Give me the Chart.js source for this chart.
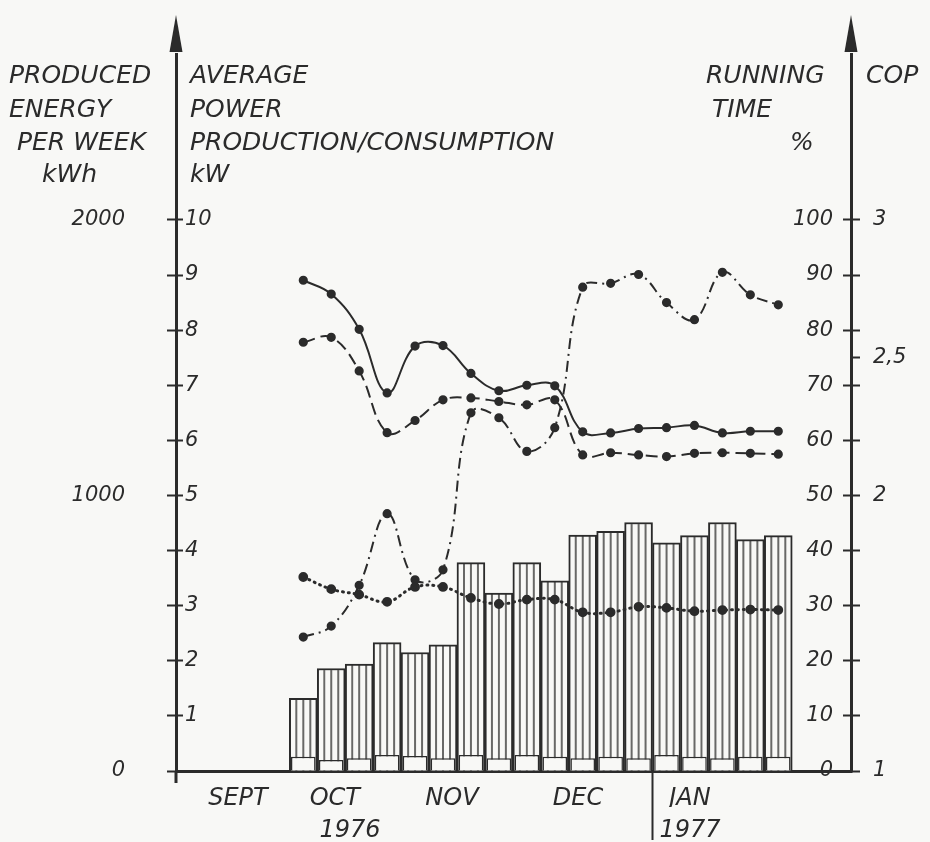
<!DOCTYPE html>
<html>
<head>
<meta charset="utf-8">
<script src="https://cdn.jsdelivr.net/npm/chart.js@4.4.1/dist/chart.umd.min.js"></script>
<style>
  html, body { margin: 0; padding: 0; background: #f8f8f6; }
  #wrap { width: 930px; height: 842px; position: relative; }
  canvas { display: block; }
</style>
</head>
<body>
<div id="wrap"><canvas id="chart" width="930" height="842"></canvas></div>
<script>
// Weekly results of the heat pump plant, Oct 1976 - Jan 1977 (one entry per week)
const weeks = ['40', '41', '42', '43', '44', '45', '46', '47', '48', '49', '50', '51', '52', '1', '2', '3', '4', '5'];

// Produced energy per week, kWh (hatched bars)
const producedKWh = [264, 372, 388, 466, 430, 458, 756, 646, 756, 690, 856, 870, 902, 828, 854, 902, 840, 854];
// Auxiliary energy per week, kWh (open blocks at the foot of the bars)
const auxiliaryKWh = [52, 40, 46, 58, 54, 46, 58, 46, 58, 52, 46, 52, 46, 58, 52, 46, 52, 52];

// COP of the heat pump (solid line)
const copHeatPump = [2.781, 2.731, 2.603, 2.372, 2.542, 2.544, 2.443, 2.380, 2.400, 2.398, 2.231, 2.227, 2.243, 2.246, 2.254, 2.227, 2.233, 2.233];
// COP of the whole system (dashed line)
const copSystem = [2.556, 2.574, 2.452, 2.228, 2.272, 2.347, 2.354, 2.341, 2.329, 2.347, 2.147, 2.155, 2.147, 2.141, 2.153, 2.155, 2.153, 2.150];
// Running time, % (dash-dot line)
const runningTimePct = [24.3, 26.3, 33.7, 46.7, 34.7, 36.5, 65.0, 64.1, 58.0, 62.3, 87.8, 88.5, 90.1, 85.0, 81.9, 90.5, 86.4, 84.6];
// Average power consumption, kW (dotted line)
const consumptionKW = [3.52, 3.30, 3.20, 3.07, 3.34, 3.34, 3.14, 3.03, 3.11, 3.11, 2.88, 2.88, 2.98, 2.96, 2.90, 2.92, 2.93, 2.92];

// Time axis labels (positions in weeks from the first plotted week)
const monthLabels = ['SEPT', 'OCT', 'NOV', 'DEC', 'JAN'];
const monthPos = [-2.34, 1.13, 5.32, 9.83, 13.84];
const yearLabels = ['1976', '1977'];
const yearPos = [1.67, 13.84];
const yearBreak = 12.5;

// Value axis ticks
const kwTicks = [0, 1, 2, 3, 4, 5, 6, 7, 8, 9, 10];
const energyTicks = [0, 200, 400, 600, 800, 1000, 1200, 1400, 1600, 1800, 2000];
const energyLabels = { 0: '0', 1000: '1000', 2000: '2000' };
const pctTicks = [0, 10, 20, 30, 40, 50, 60, 70, 80, 90, 100];
const copTicks = [1, 1.2, 1.4, 1.6, 1.8, 2, 2.2, 2.4, 2.5, 2.6, 2.8, 3];
const copLabels = { 1: '1', 2: '2', 2.5: '2,5', 3: '3' };

const INK = '#2b2b2b';
const PAPER = '#f8f8f6';
const FAMILY = '"DejaVu Sans", "Liberation Sans", sans-serif';
const numFont = { family: FAMILY, size: 21, style: 'italic' };
const wordFont = { family: FAMILY, size: 24, style: 'italic' };

// Axis range: 0..13 kW, everything else scaled to the same height
const KW_MAX = 13;
const X_MIN = -4.556, X_MAX = 19.603;

// Vertical hatching for the production bars (4 columns per bar)
const hatchCanvas = document.createElement('canvas');
hatchCanvas.width = 28; hatchCanvas.height = 4;
const hg = hatchCanvas.getContext('2d');
hg.fillStyle = PAPER; hg.fillRect(0, 0, 28, 4);
hg.fillStyle = INK;
[7, 14, 21].forEach(x => hg.fillRect(x - 0.7, 0, 1.4, 4));
const hatch = document.getElementById('chart').getContext('2d').createPattern(hatchCanvas, 'repeat');

const pts = arr => arr.map((v, i) => ({ x: i, y: v }));

const hatchAlign = {
  id: 'hatchAlign',
  beforeDatasetsDraw(chart) {
    const xs = chart.scales.x;
    const l = xs.getPixelForValue(-0.5);
    const r = xs.getPixelForValue(0.5);
    hatch.setTransform(new DOMMatrix([(r - l) / 28, 0, 0, 1, l, 0]));
  }
};

// Arrow heads on the two vertical axes and the axis headings
const decorations = {
  id: 'decorations',
  afterDraw(chart) {
    const { ctx, chartArea: a } = chart;
    ctx.save();
    ctx.fillStyle = INK;
    ctx.strokeStyle = INK;
    [a.left, a.right].forEach(x => {
      ctx.beginPath();
      ctx.moveTo(x, 15);
      ctx.lineTo(x + 6.5, 52);
      ctx.lineTo(x - 6.5, 52);
      ctx.closePath();
      ctx.fill();
    });
    ctx.lineWidth = 3;
    ctx.beginPath();
    ctx.moveTo(a.left, a.bottom);
    ctx.lineTo(a.left, a.bottom + 12);
    ctx.stroke();

    ctx.font = 'italic 25px ' + FAMILY;
    ctx.textBaseline = 'middle';
    ctx.textAlign = 'left';
    const rows = [76, 110, 143, 175];
    const heads = [
      ['PRODUCED', 9, 0], ['ENERGY', 9, 1], ['PER WEEK', 17, 2], ['kWh', 42, 3],
      ['AVERAGE', 190, 0], ['POWER', 190, 1], ['PRODUCTION/CONSUMPTION', 190, 2], ['kW', 190, 3],
      ['RUNNING', 706, 0], ['TIME', 712, 1], ['%', 790, 2],
      ['COP', 866, 0]
    ];
    heads.forEach(([t, x, r]) => ctx.fillText(t, x, rows[r]));
    ctx.restore();
  }
};

const setTicks = list => scale => { scale.ticks = list.map(v => ({ value: v })); };

new Chart(document.getElementById('chart'), {
  type: 'bar',
  data: {
    datasets: [
      {
        type: 'line', label: 'COP heat pump', yAxisID: 'cop', data: pts(copHeatPump),
        borderColor: INK, borderWidth: 2, tension: 0.4, order: 1,
        pointRadius: 3.6, pointBackgroundColor: INK, pointBorderColor: INK
      },
      {
        type: 'line', label: 'COP system', yAxisID: 'cop', data: pts(copSystem),
        borderColor: INK, borderWidth: 2, borderDash: [12, 6], tension: 0.4, order: 1,
        pointRadius: 3.6, pointBackgroundColor: INK, pointBorderColor: INK
      },
      {
        type: 'line', label: 'Running time', yAxisID: 'pct', data: pts(runningTimePct),
        borderColor: INK, borderWidth: 2, borderDash: [11, 5, 2, 5], tension: 0.4, order: 1,
        pointRadius: 3.6, pointBackgroundColor: INK, pointBorderColor: INK
      },
      {
        type: 'line', label: 'Consumption', yAxisID: 'y', data: pts(consumptionKW),
        borderColor: INK, borderWidth: 3, borderDash: [1, 5], borderCapStyle: 'round', tension: 0.4, order: 1,
        pointRadius: 3.4, pointBackgroundColor: INK, pointBorderColor: INK
      },
      {
        label: 'Auxiliary energy', yAxisID: 'energy', data: pts(auxiliaryKWh),
        backgroundColor: PAPER, borderColor: INK, borderWidth: 1.5,
        grouped: false, barPercentage: 0.88, categoryPercentage: 1, order: 2
      },
      {
        label: 'Produced energy', yAxisID: 'energy', data: pts(producedKWh),
        backgroundColor: hatch, borderColor: INK, borderWidth: 2,
        grouped: false, barPercentage: 1, categoryPercentage: 1, order: 3
      }
    ]
  },
  options: {
    responsive: false,
    animation: false,
    devicePixelRatio: 1,
    layout: { padding: { top: 47, left: 0, right: 0, bottom: 0 }, autoPadding: false },
    plugins: { legend: { display: false }, tooltip: { enabled: false } },
    scales: {
      x: {
        type: 'linear', position: 'bottom', weight: 0, min: X_MIN, max: X_MAX, offset: false,
        afterBuildTicks: scale => {
          scale.ticks = [...monthPos, yearBreak].sort((a, b) => a - b).map(v => ({ value: v }));
        },
        ticks: {
          autoSkip: false, maxRotation: 0, minRotation: 0, padding: -56,
          font: wordFont, color: INK,
          callback: v => { const i = monthPos.indexOf(v); return i >= 0 ? monthLabels[i] : ''; }
        },
        grid: {
          offset: false, drawOnChartArea: false, drawTicks: true, tickLength: 69, tickWidth: 2,
          tickColor: c => (c.tick && c.tick.value === yearBreak) ? INK : 'rgba(0,0,0,0)'
        },
        border: { display: true, color: INK, width: 3 },
        afterFit: s => { s.height = 36; }
      },
      x2: {
        type: 'linear', axis: 'x', position: 'bottom', weight: 1, min: X_MIN, max: X_MAX, offset: false,
        afterBuildTicks: setTicks(yearPos),
        ticks: {
          autoSkip: false, maxRotation: 0, minRotation: 0, padding: 9,
          font: wordFont, color: INK,
          callback: v => { const i = yearPos.indexOf(v); return i >= 0 ? yearLabels[i] : ''; }
        },
        grid: { display: false, drawTicks: false, offset: false },
        border: { display: false },
        afterFit: s => { s.height = 35; }
      },
      y: {
        type: 'linear', axis: 'y', position: 'left', weight: 0, min: 0, max: KW_MAX,
        afterBuildTicks: setTicks(kwTicks),
        ticks: { mirror: true, padding: 9, font: numFont, color: INK, callback: v => v === 0 ? '' : String(v) },
        grid: { drawOnChartArea: false, drawTicks: true, tickLength: -7, tickWidth: 2, tickColor: INK },
        border: { display: true, color: INK, width: 3 },
        afterFit: s => { s.width = 0; }
      },
      energy: {
        type: 'linear', axis: 'y', position: 'left', weight: 1, min: 0, max: KW_MAX * 200,
        afterBuildTicks: setTicks(energyTicks),
        ticks: { padding: 42, font: numFont, color: INK, callback: v => energyLabels[v] || '' },
        grid: { drawOnChartArea: false, drawTicks: true, tickLength: 9, tickWidth: 2, tickColor: INK },
        border: { display: false },
        afterFit: s => { s.width = 176; }
      },
      pct: {
        type: 'linear', axis: 'y', position: 'right', weight: 0, min: 0, max: KW_MAX * 10,
        afterBuildTicks: setTicks(pctTicks),
        ticks: { mirror: true, padding: -18, font: numFont, color: INK, callback: v => String(v) },
        grid: { drawOnChartArea: false, drawTicks: true, tickLength: -8, tickWidth: 2, tickColor: INK },
        border: { display: true, color: INK, width: 3 },
        afterFit: s => { s.width = 0; }
      },
      cop: {
        type: 'linear', axis: 'y', position: 'right', weight: 1, min: 1, max: 1 + KW_MAX / 5,
        afterBuildTicks: setTicks(copTicks),
        ticks: { padding: 13, font: numFont, color: INK, callback: v => copLabels[v] || '' },
        grid: { drawOnChartArea: false, drawTicks: true, tickLength: 9, tickWidth: 2, tickColor: INK },
        border: { display: false },
        afterFit: s => { s.width = 79; }
      }
    }
  },
  plugins: [hatchAlign, decorations]
});
</script>
</body>
</html>
